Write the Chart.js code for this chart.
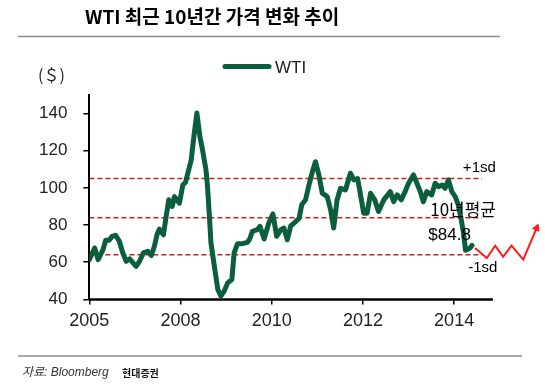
<!DOCTYPE html>
<html><head><meta charset="utf-8">
<script src="https://cdn.jsdelivr.net/npm/chart.js@4.4.1/dist/chart.umd.min.js"></script>
<style>html,body{margin:0;padding:0;background:#fff}canvas{display:block}</style>
</head><body>
<canvas id="c" width="545" height="387"></canvas>
<script>
// ---- text ----
const chartTitle = 'WTI 최근 10년간 가격 변화 추이';
const seriesName = 'WTI';
const unitLabel = '(＄)';
const sourceText = '자료: Bloomberg';
const brokerText = '현대증권';
const meanLabel = '$84.8';

// ---- axes ----
const xTickValues = [0, 24, 48, 72, 96];          // months from start
const xTickLabels = ['2005', '2008', '2010', '2012', '2014'];
const yTickValues = [40, 60, 80, 100, 120, 140];
const yMin = 40, yMax = 150;
const xMin = 0, xMax = 118.6, xAxisEnd = 106.2;

// ---- WTI series (months from start, $/bbl) ----
const wtiX = [0,1.4,2.3,3.6,4.3,5.2,6.0,6.9,7.9,8.8,9.7,10.6,11.5,12.3,13.2,14.2,15.4,16.3,17.1,17.8,
  18.4,19.5,20.2,20.9,21.8,22.4,23.7,24.6,25.3,26.8,27.6,28.3,29.1,29.8,30.7,31.1,31.6,32.0,32.9,33.8,
  34.6,35.5,36.4,37.5,38.1,39.0,40.3,41.6,42.2,42.9,44.2,44.9,46.0,47.2,48.3,49.3,50.4,51.2,52.1,53.0,
  54.3,55.2,55.9,56.9,57.8,58.7,59.5,60.4,61.3,62.6,63.5,64.3,65.2,66.1,67.4,68.7,69.6,70.6,71.3,72.2,
  73.1,74.0,75.1,76.1,77.5,79.2,80.1,81.0,82.1,83.1,84.0,85.3,86.2,87.1,87.9,88.8,90.1,91.0,91.9,92.9,
  93.6,94.5,95.4,96.3,97.1,97.8,98.4,99.0,100.2,100.7];
const wtiY = [61.4,67.7,61.4,66.8,71.8,71.8,73.9,74.5,71.2,65.0,60.5,61.8,59.7,57.8,60.5,65.0,65.9,63.6,68.5,74.8,
  77.8,74.8,84.6,93.6,90.0,95.3,91.8,101.6,103.0,115.0,129.3,140.3,127.5,120.3,109.6,100.7,84.6,70.4,57.8,45.4,
  41.8,44.5,48.9,50.7,65.0,70.0,70.0,70.7,72.5,76.6,77.5,79.3,72.5,81.0,86.0,74.0,77.5,78.4,72.1,79.6,
  81.9,83.7,90.9,93.6,101.6,108.7,114.1,107.0,97.1,95.3,88.2,78.4,93.6,99.8,98.9,107.9,104.3,105.0,97.0,86.4,
  86.4,97.1,93.6,87.3,93.6,98.0,92.6,96.2,93.6,98.0,102.5,107.0,102.5,98.0,92.6,98.0,96.2,102.5,100.7,101.6,
  99.8,104.3,98.0,95.3,90.9,83.7,76.6,66.5,67.7,69.0];

// ---- 10-year average and +/-1 standard deviation ----
const refLevels = [105, 84, 64];
const refNames = ['+1sd', '10년평균', '-1sd'];
const refEnd = 103.3;

// ---- red forecast zigzag ----
const forecastX = [101.5, 104.6, 106.8, 108.9, 111.1, 114.2, 117.7];
const forecastY = [67.7, 62.3, 68.9, 62.9, 68.9, 61.4, 78.4];

const green = '#0b5e3c';
const dashRed = '#c8202a';

const pts = (xs, ys) => xs.map((x, i) => ({x, y: ys[i]}));

const datasets = [
  {label: seriesName, data: pts(wtiX, wtiY), borderColor: green, borderWidth: 5,
   pointRadius: 0, borderJoinStyle: 'round', borderCapStyle: 'round', order: 0}
];
refLevels.forEach((v, i) => datasets.push({
  label: refNames[i], data: [{x: xMin, y: v}, {x: refEnd, y: v}], borderColor: dashRed,
  borderWidth: 1.5, borderDash: [5, 3], pointRadius: 0, order: 2
}));
datasets.push({
  label: 'forecast', data: pts(forecastX, forecastY), borderColor: '#ff1a1a', borderWidth: 2,
  pointRadius: c => c.dataIndex === forecastX.length - 1 ? 4 : 0,
  pointStyle: 'triangle', rotation: 23, pointBackgroundColor: '#ff1a1a', pointBorderColor: '#ff1a1a',
  pointBorderWidth: 1, order: 1, clip: false
});
datasets.push({
  label: 'axis', data: [{x: xMin, y: yMin}, {x: xAxisEnd, y: yMin}], borderColor: '#000',
  borderWidth: 2.5, pointRadius: 0, order: 3, clip: false
});

const decor = {
  id: 'decor',
  afterDraw(chart) {
    const ctx = chart.ctx;
    const xs = chart.scales.x, ys = chart.scales.y;
    ctx.save();
    // title
    ctx.fillStyle = '#000';
    ctx.font = "bold 19px 'Noto Sans CJK KR', sans-serif";
    ctx.textBaseline = 'middle';
    ctx.textAlign = 'left';
    ctx.fillText(chartTitle, 85, 17);
    // separators
    ctx.strokeStyle = '#8c8c8c';
    ctx.lineWidth = 1.5;
    ctx.beginPath(); ctx.moveTo(18, 36.5); ctx.lineTo(500, 36.5); ctx.stroke();
    ctx.beginPath(); ctx.moveTo(18, 356); ctx.lineTo(522, 356); ctx.stroke();
    // legend
    ctx.strokeStyle = green; ctx.lineWidth = 5; ctx.lineCap = 'round';
    ctx.beginPath(); ctx.moveTo(225, 66.5); ctx.lineTo(269, 66.5); ctx.stroke();
    ctx.fillStyle = '#222';
    ctx.font = "17px 'Liberation Sans', Arial, sans-serif";
    ctx.fillText(seriesName, 275, 68);
    // unit
    ctx.font = "16px 'Noto Sans CJK KR', sans-serif";
    ctx.fillText(unitLabel, 38, 75);
    // annotations anchored on the scales
    ctx.fillStyle = '#000';
    ctx.font = "15px 'Liberation Sans', Arial, sans-serif";
    ctx.fillText(refNames[0], xs.getPixelForValue(98.3), ys.getPixelForValue(110.7));
    ctx.fillText(refNames[2], xs.getPixelForValue(99.7), ys.getPixelForValue(57.1));
    ctx.font = "17px 'Noto Sans CJK KR', sans-serif";
    ctx.fillText(refNames[1], xs.getPixelForValue(89.7), ys.getPixelForValue(88.2));
    ctx.font = "17px 'Liberation Sans', Arial, sans-serif";
    ctx.fillText(meanLabel, xs.getPixelForValue(89.2), ys.getPixelForValue(74.3));
    // source
    ctx.fillStyle = '#333';
    ctx.font = "italic 12px 'Liberation Sans', 'Noto Sans CJK KR', sans-serif";
    ctx.fillText(sourceText, 22, 373);
    ctx.fillStyle = '#111';
    ctx.font = "bold 10px 'Noto Sans CJK KR', sans-serif";
    ctx.fillText(brokerText, 122, 373);
    ctx.restore();
  }
};

new Chart(document.getElementById('c'), {
  type: 'line',
  data: {datasets},
  options: {
    responsive: false, animation: false,
    layout: {padding: {top: 95, bottom: 49, left: 23, right: 5}},
    plugins: {legend: {display: false}, tooltip: {enabled: false}},
    scales: {
      x: {
        type: 'linear', min: xMin, max: xMax,
        afterBuildTicks: s => { s.ticks = xTickValues.map(v => ({value: v})); },
        ticks: {
          callback: v => xTickLabels[xTickValues.indexOf(v)],
          font: {size: 18, family: "'Liberation Sans', Arial, sans-serif"}, color: '#222',
          padding: 6, maxRotation: 0, autoSkip: false
        },
        grid: {display: true, drawOnChartArea: false, drawTicks: true, tickLength: 5, color: '#000', lineWidth: 1.5},
        border: {display: false}
      },
      y: {
        type: 'linear', min: yMin, max: yMax,
        afterBuildTicks: s => { s.ticks = yTickValues.map(v => ({value: v})); },
        ticks: {
          font: {size: 17, family: "'Liberation Sans', Arial, sans-serif"}, color: '#222', padding: 16
        },
        grid: {display: true, drawOnChartArea: false, drawTicks: true, tickLength: 6, color: '#000', lineWidth: 1.5},
        border: {display: true, color: '#000', width: 2}
      }
    }
  },
  plugins: [decor]
});
</script>
</body></html>
